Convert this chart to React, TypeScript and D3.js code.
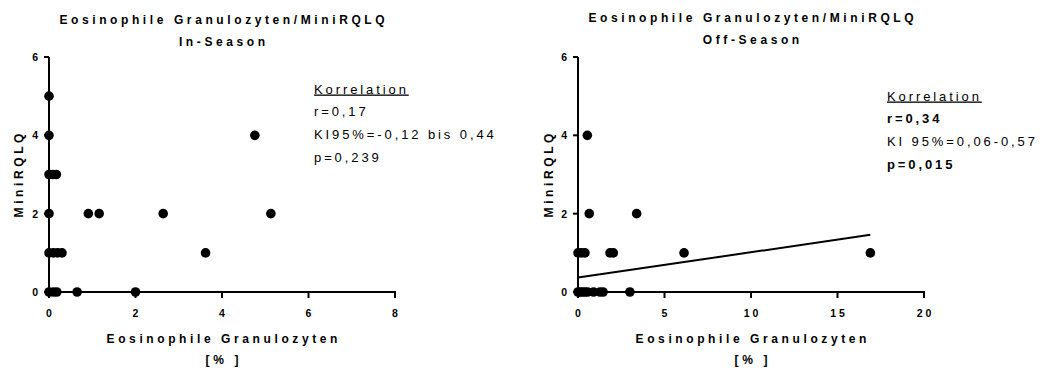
import React from 'react';
import * as d3 from 'd3';

const FONT = '"Liberation Sans", Arial, Helvetica, sans-serif';

// Shared texts
const titleMain = 'Eosinophile Granulozyten/MiniRQLQ';
const xAxisLabel = 'Eosinophile Granulozyten';
const xAxisUnit = '[% ]';
const yAxisLabel = 'MiniRQLQ';
const statsHeading = 'Korrelation';

// Axis ticks
const yTicks = [0, 2, 4, 6];
const inSeasonXTicks = [0, 2, 4, 6, 8];
const offSeasonXTicks = [0, 5, 10, 15, 20];

// In-season: eosinophils [%] vs MiniRQLQ score
const inSeasonEos = [
  0, 0, 0, 0.08, 0.17, 0, 0.91, 1.16, 2.64, 5.13, 4.76, 3.62,
  0, 0.1, 0.2, 0.3, 0, 0.1, 0.18, 0.65, 2.0,
];
const inSeasonRqlq = [
  5, 4, 3, 3, 3, 2, 2, 2, 2, 2, 4, 1,
  1, 1, 1, 1, 0, 0, 0, 0, 0,
];

// Off-season: eosinophils [%] vs MiniRQLQ score
const offSeasonEos = [
  0.54, 0.65, 3.39,
  0, 0.2, 0.4, 1.85, 2.04, 6.13, 16.9,
  0, 0.1, 0.25, 0.4, 0.55, 0.9, 1.27, 1.45, 3.0,
];
const offSeasonRqlq = [
  4, 2, 2,
  1, 1, 1, 1, 1, 1, 1,
  0, 0, 0, 0, 0, 0, 0, 0, 0,
];

// Linear fit shown for the off-season data
const offSeasonFitIntercept = 0.37;
const offSeasonFitSlope = 0.0645;

// Correlation summaries
const inSeasonStats = ['r=0,17', 'KI95%=-0,12 bis 0,44', 'p=0,239'];
const inSeasonStatsBold = [false, false, false];
const offSeasonStats = ['r=0,34', 'KI 95%=0,06-0,57', 'p=0,015'];
const offSeasonStatsBold = [true, false, true];

type PanelProps = {
  left: number;
  right: number;
  top: number;
  bottom: number;
  xMax: number;
  xTicks: number[];
  xs: number[];
  ys: number[];
  subtitle: string;
  titleY: number;
  stats: string[];
  statsBold: boolean[];
  statsX: number;
  statsY: number;
  yLabelX: number;
  fit?: { intercept: number; slope: number };
};

const TITLE_LS = 3.6;
const TICK_LS = 3;
const STAT_LS = 2.9;

function Panel(p: PanelProps) {
  const x = d3.scaleLinear().domain([0, p.xMax]).range([p.left, p.right]);
  const y = d3.scaleLinear().domain([0, 6]).range([p.bottom, p.top]);
  const cx = (p.left + p.right) / 2;
  const points = d3.zip(p.xs, p.ys) as [number, number][];
  const fitLine = d3
    .line<number>()
    .x((v) => x(v))
    .y((v) => y(p.fit ? p.fit.intercept + p.fit.slope * v : 0));
  const fitDomain = [0, d3.max(p.xs) as number];
  const titleStyle = {
    fontFamily: FONT,
    fontWeight: 700,
    fontSize: 12,
    letterSpacing: TITLE_LS,
  } as React.CSSProperties;

  return (
    <g>
      {/* titles */}
      <text x={cx} y={p.titleY} dx={TITLE_LS / 2} textAnchor="middle" style={titleStyle}>
        {titleMain}
      </text>
      <text x={cx} y={p.titleY + 22} dx={TITLE_LS / 2} textAnchor="middle" style={titleStyle}>
        {p.subtitle}
      </text>

      {/* axis labels */}
      <text x={cx} y={343} dx={TITLE_LS / 2} textAnchor="middle" style={titleStyle}>
        {xAxisLabel}
      </text>
      <text x={cx} y={364} dx={TITLE_LS / 2} textAnchor="middle" style={titleStyle}>
        {xAxisUnit}
      </text>
      <text
        transform={`translate(${p.yLabelX},${(p.top + p.bottom) / 2 + 1}) rotate(-90)`}
        dx={TITLE_LS / 2}
        textAnchor="middle"
        style={titleStyle}
      >
        {yAxisLabel}
      </text>

      {/* y axis */}
      <line x1={p.left} x2={p.left} y1={y(6)} y2={y(0) + 1} stroke="#000" strokeWidth={2} />
      {yTicks.map((t) => (
        <g key={`y${t}`}>
          <line x1={p.left - 5} x2={p.left} y1={y(t)} y2={y(t)} stroke="#000" strokeWidth={2} />
          <text
            x={p.left - 11}
            y={y(t) + 4}
            textAnchor="end"
            style={{ fontFamily: FONT, fontWeight: 700, fontSize: 10.5 }}
          >
            {t}
          </text>
        </g>
      ))}

      {/* x axis */}
      <line x1={p.left - 1} x2={p.right + 1} y1={y(0)} y2={y(0)} stroke="#000" strokeWidth={2} />
      {p.xTicks.map((t) => (
        <g key={`x${t}`}>
          <line x1={x(t)} x2={x(t)} y1={y(0)} y2={y(0) + 6} stroke="#000" strokeWidth={2} />
          <text
            x={x(t)}
            y={317}
            dx={TICK_LS / 2}
            textAnchor="middle"
            style={{ fontFamily: FONT, fontWeight: 700, fontSize: 10.5, letterSpacing: TICK_LS }}
          >
            {t}
          </text>
        </g>
      ))}

      {/* regression line */}
      {p.fit && (
        <path d={fitLine(fitDomain) || ''} fill="none" stroke="#000" strokeWidth={2} />
      )}

      {/* data points */}
      {points.map(([a, b], i) => (
        <circle key={i} cx={x(a)} cy={y(b)} r={4.8} fill="#000" />
      ))}

      {/* correlation block */}
      <text
        x={p.statsX}
        y={p.statsY}
        textDecoration="underline"
        style={{ fontFamily: FONT, fontSize: 13, letterSpacing: STAT_LS, textDecoration: 'underline' }}
      >
        {statsHeading}
      </text>
      {p.stats.map((s, i) => (
        <text
          key={s}
          x={p.statsX}
          y={p.statsY + 22.7 * (i + 1)}
          style={{
            fontFamily: FONT,
            fontSize: 13,
            letterSpacing: STAT_LS,
            fontWeight: p.statsBold[i] ? 700 : 400,
          }}
        >
          {s}
        </text>
      ))}
    </g>
  );
}

export default function App() {
  return (
    <svg
      width={1041}
      height={369}
      style={{ position: 'absolute', left: 0, top: 0, background: '#fff' }}
    >
      <rect width={1041} height={369} fill="#fff" />
      <Panel
        left={49}
        right={395}
        top={57}
        bottom={292}
        xMax={8}
        xTicks={inSeasonXTicks}
        xs={inSeasonEos}
        ys={inSeasonRqlq}
        subtitle="In-Season"
        titleY={24}
        stats={inSeasonStats}
        statsBold={inSeasonStatsBold}
        statsX={314}
        statsY={93.5}
        yLabelX={23}
      />
      <Panel
        left={578}
        right={924}
        top={57}
        bottom={292}
        xMax={20}
        xTicks={offSeasonXTicks}
        xs={offSeasonEos}
        ys={offSeasonRqlq}
        subtitle="Off-Season"
        titleY={22}
        stats={offSeasonStats}
        statsBold={offSeasonStatsBold}
        statsX={887}
        statsY={100.5}
        yLabelX={553}
        fit={{ intercept: offSeasonFitIntercept, slope: offSeasonFitSlope }}
      />
    </svg>
  );
}
